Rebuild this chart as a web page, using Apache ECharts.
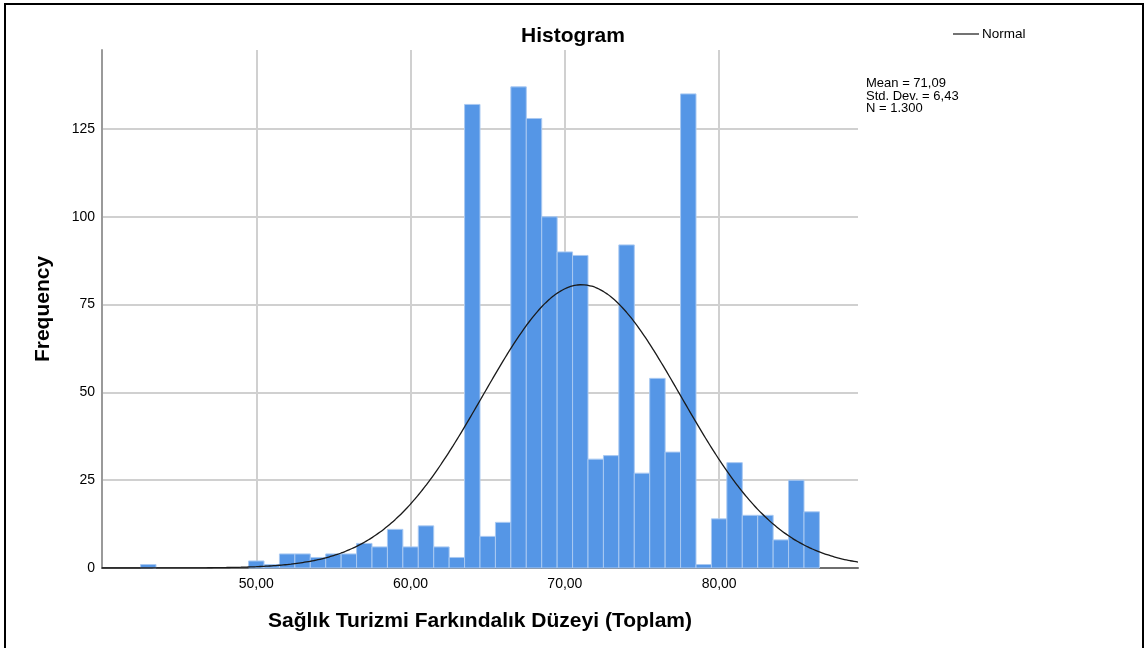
<!DOCTYPE html>
<html>
<head>
<meta charset="utf-8">
<script src="https://cdn.jsdelivr.net/npm/echarts@6/dist/echarts.min.js"></script>
<style>
  html, body { margin: 0; padding: 0; background: #fff; }
  #chart { width: 1146px; height: 648px; }
</style>
</head>
<body>
<div id="chart"></div>
<script>
//bin centres (width 1) and their counts
const binCenters = [43, 50, 51, 52, 53, 54, 55, 56, 57, 58, 59, 60, 61, 62, 63, 64, 65, 66, 67, 68, 69,
    70, 71, 72, 73, 74, 75, 76, 77, 78, 79, 80, 81, 82, 83, 84, 85, 86];
const binCounts = [1, 2, 1, 4, 4, 3, 4, 4, 7, 6, 11, 6, 12, 6, 3, 132, 9, 13, 137, 128, 100,
    90, 89, 31, 32, 92, 27, 54, 33, 135, 1, 14, 30, 15, 15, 8, 25, 16];

//summary stats printed on the chart
const mean = 71.09;
const stdDev = 6.43;
const total = 1300;
const binWidth = 1;

//axis ticks
const xTicks = [50, 60, 70, 80];
const yTicks = [0, 25, 50, 75, 100, 125];

const font = "'Liberation Sans', Arial, sans-serif";
const fmt = v => v.toFixed(2).replace(".", ",");

//normal curve overlay, SPSS draws it from mean / sd / N
const curve = [];
for (let x = 40; x <= 89.001; x += 0.25) {
    const z = (x - mean) / stdDev;
    curve.push([x, total * binWidth * Math.exp(-0.5 * z * z) / (stdDev * Math.sqrt(2 * Math.PI))]);
}

const chart = echarts.init(document.getElementById("chart"));
chart.setOption({
    animation: false,
    textStyle: { fontFamily: font },
    title: {
        text: "Histogram",
        left: "center",
        top: 21,
        textStyle: { fontFamily: font, fontSize: 21, fontWeight: "bold", color: "#000" }
    },
    legend: {
        data: [{ name: "Normal", icon: "rect" }],
        left: 948,
        top: 22,
        itemWidth: 26,
        itemHeight: 1.5,
        textStyle: { fontFamily: font, fontSize: 13.5, color: "#000", padding: [0, 0, 0, -2] }
    },
    grid: { left: 102, right: 288, top: 50, bottom: 80 },
    xAxis: {
        type: "value",
        min: 40,
        max: 89,
        interval: 10,
        name: "Sağlık Turizmi Farkındalık Düzeyi (Toplam)",
        nameLocation: "middle",
        nameGap: 43,
        nameTextStyle: { fontFamily: font, fontSize: 21, fontWeight: "bold", color: "#000" },
        axisLine: { lineStyle: { color: "#6e6e6e", width: 2 } },
        axisTick: { show: false },
        axisLabel: {
            fontFamily: font, fontSize: 14, color: "#000", margin: 9,
            formatter: v => xTicks.includes(v) ? fmt(v) : ""
        },
        splitLine: { show: true, showMinLine: false, showMaxLine: false, lineStyle: { color: "#d0d0d0", width: 2 } }
    },
    yAxis: {
        type: "value",
        min: 0,
        max: 147.5,
        interval: 25,
        name: "Frequency",
        nameLocation: "middle",
        nameGap: 48,
        nameTextStyle: { fontFamily: font, fontSize: 21, fontWeight: "bold", color: "#000" },
        axisLine: { show: true, lineStyle: { color: "#9a9a9a", width: 2 } },
        axisTick: { show: false },
        axisLabel: {
            fontFamily: font, fontSize: 14, color: "#000", margin: 7,
            formatter: v => yTicks.includes(v) ? String(v) : ""
        },
        splitLine: { show: true, showMaxLine: false, lineStyle: { color: "#d0d0d0", width: 2 } }
    },
    series: [
        {
            name: "Bins",
            type: "custom",
            data: binCenters.map((c, i) => [c, binCounts[i]]),
            renderItem: (params, api) => {
                const c = api.value(0);
                const left = api.coord([c - binWidth / 2, api.value(1)]);
                const right = api.coord([c + binWidth / 2, 0]);
                return {
                    type: "rect",
                    shape: { x: left[0], y: left[1], width: right[0] - left[0], height: right[1] - left[1] },
                    style: { fill: "#5596e6", stroke: "#a9c9f2", lineWidth: 1 }
                };
            },
            z: 2
        },
        {
            name: "Normal",
            type: "line",
            data: curve,
            showSymbol: false,
            symbol: "none",
            smooth: true,
            lineStyle: { color: "#1a1a1a", width: 1.3 },
            itemStyle: { color: "#444" },
            z: 3
        }
    ],
    graphic: [
        {
            type: "rect",
            shape: { x: 5, y: 4, width: 1138, height: 660 },
            style: { fill: "none", stroke: "#000", lineWidth: 2 },
            silent: true
        },
        {
            type: "text",
            left: 866,
            top: 77,
            style: {
                text: "Mean = " + fmt(mean) + "\nStd. Dev. = " + fmt(stdDev) + "\nN = " + total.toLocaleString("de-DE"),
                fontFamily: font,
                fontSize: 13,
                lineHeight: 12.5,
                fill: "#000"
            }
        }
    ]
});
</script>
</body>
</html>
